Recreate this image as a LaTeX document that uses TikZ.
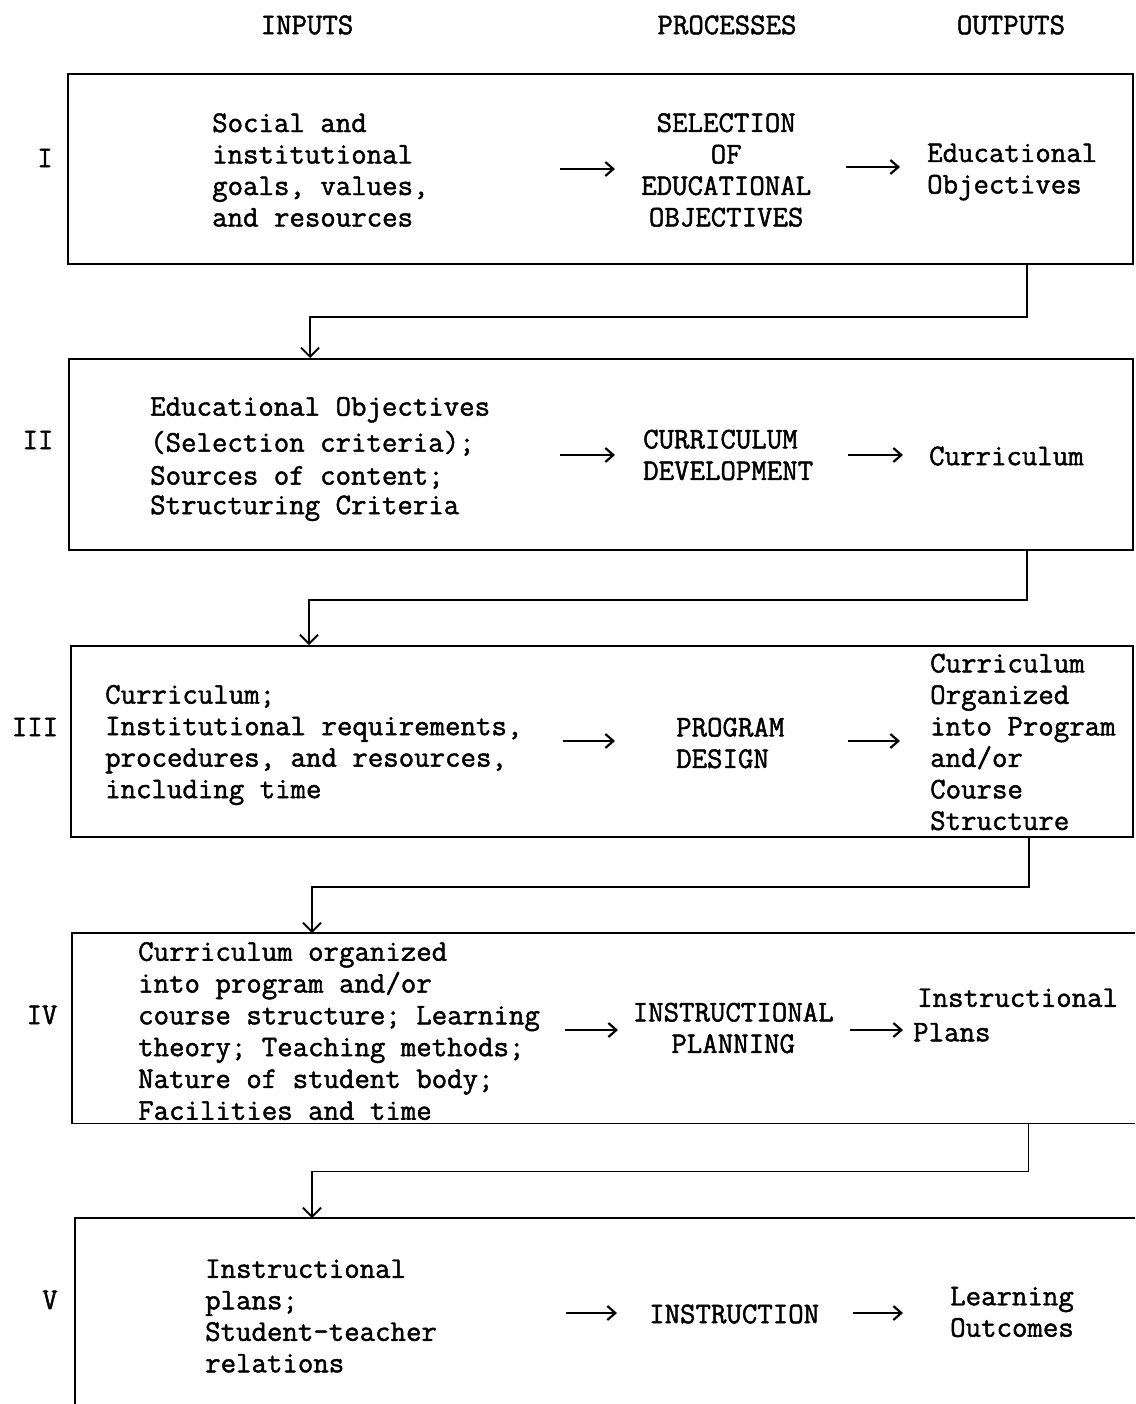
\documentclass[tikz,border=0pt]{standalone}
\usepackage{fontspec}
\newfontfamily\twfont{Latin Modern Mono}[FakeBold=1.5]
\usetikzlibrary{arrows.meta}
\begin{document}
\begin{tikzpicture}[x=1pt,y=-1pt,
  txt/.style={font=\twfont\fontsize{30}{31.5}\selectfont, inner sep=0pt, align=left, anchor=west},
  ctr/.style={font=\twfont\fontsize{30}{31.5}\selectfont, inner sep=0pt, align=center},
  box/.style={draw, line width=1.8pt, rectangle, inner sep=0pt, anchor=north west},
  frame/.style={rectangle, inner sep=0pt, anchor=north west},
  edgeline/.style={line width=1.8pt},
  conn/.style={line width=1.8pt, -{Straight Barb[length=9pt,width=18pt,line width=1.8pt]}},
  arr/.style={line width=1.9pt, -{Straight Barb[length=8pt,width=14pt,line width=2.2pt]}}]
\useasboundingbox (0,0) rectangle (1135,1404);

% headers
\node[ctr] (hin)  at (307,25)  {INPUTS};
\node[ctr] (hpr)  at (727,25)  {PROCESSES};
\node[ctr] (hout) at (1011,25) {OUTPUTS};

% boxes
\node[box, minimum width=1065pt, minimum height=190pt] (b1) at (67,73) {};
\node[box, minimum width=1064pt, minimum height=191pt] (b2) at (68,358) {};
\node[box, minimum width=1062pt, minimum height=191pt] (b3) at (70,645) {};
\node[frame, minimum width=1063pt, minimum height=190pt] (b4) at (72,933) {};
\draw[edgeline] (b4.north east) -- (b4.north west) -- (b4.south west) -- (b4.south east);
\node[frame, minimum width=1060pt, minimum height=186pt] (b5) at (75,1218) {};
\draw[edgeline] (b5.north east) -- (b5.north west) -- (b5.south west);

% connectors between boxes
\draw[conn] ([xshift=-107pt]b1.south east) -- ++(0,52) -| ([xshift=242pt]b2.north west);
\draw[conn] ([xshift=-107pt]b2.south east) -- ++(0,49) -| ([xshift=239pt]b3.north west);
\draw[conn] ([xshift=-105pt]b3.south east) -- ++(0,49) -| ([xshift=240pt]b4.north west);
\draw[conn] ([xshift=-107pt]b4.south east) -- ++(0,48) -| ([xshift=237pt]b5.north west);

% roman numerals
\node[ctr] (r1) at (45,158)  {I};
\node[ctr] (r2) at (38,440)  {II};
\node[ctr] (r3) at (35,727)  {III};
\node[ctr] (r4) at (42,1015) {IV};
\node[ctr] (r5) at (50,1300) {V};

% stage I
\node[txt] (in1) at (212,170) {Social and\\institutional\\goals, values,\\and resources};
\node[ctr, text width=180pt, anchor=west] (pr1) at (636,170) {SELECTION\\OF\\EDUCATIONAL\\OBJECTIVES};
\node[txt] (out1) at (927,172) {Educational\\Objectives};
\draw[arr] ([xshift=-76pt,yshift=1pt]pr1.west) -- ([xshift=-21pt,yshift=1pt]pr1.west);
\draw[arr] ([xshift=-81pt,yshift=5pt]out1.west) -- ([xshift=-27pt,yshift=5pt]out1.west);

% stage II
\node[txt] (in2) at (150,459) {Educational Objectives\\[4.5pt](Selection criteria);\\[1.5pt]Sources of content;\\[-2pt]Structuring Criteria};
\node[txt] (pr2) at (643,455) {CURRICULUM\\DEVELOPMENT};
\node[txt] (out2) at (929,456) {Curriculum};
\draw[arr] ([xshift=-83pt]pr2.west) -- ([xshift=-28pt]pr2.west);
\draw[arr] ([xshift=-81pt,yshift=1pt]out2.west) -- ([xshift=-26pt,yshift=1pt]out2.west);

% stage III
\node[txt] (in3) at (105,745) {Curriculum;\\Institutional requirements,\\procedures, and resources,\\including time};
\node[txt] (pr3) at (676,743) {PROGRAM\\DESIGN};
\node[txt] (out3) at (930,742) {Curriculum\\Organized\\into Program\\and/or\\Course\\Structure};
\draw[arr] ([xshift=-113pt,yshift=2pt]pr3.west) -- ([xshift=-61pt,yshift=2pt]pr3.west);
\draw[arr] ([xshift=-82pt,yshift=1pt]out3.west) -- ([xshift=-30pt,yshift=1pt]out3.west);

% stage IV
\node[txt, font=\twfont\fontsize{30}{31.8}\selectfont] (in4) at (138,1031) {Curriculum organized\\into program and/or\\course structure; Learning\\theory; Teaching methods;\\Nature of student body;\\Facilities and time};
\node[ctr, text width=210pt, anchor=west] (pr4) at (628,1028) {INSTRUCTIONAL\\PLANNING};
\node[txt] (out4) at (913,1015) {\hspace*{4pt}Instructional\\[3pt]Plans};
\draw[arr] ([xshift=-63pt,yshift=-2pt]pr4.west) -- ([xshift=-10pt,yshift=-2pt]pr4.west);
\draw[arr] ([xshift=-63pt,yshift=-15pt]out4.west) -- ([xshift=-10pt,yshift=-15pt]out4.west);

% stage V
\node[txt] (in5) at (205,1316) {Instructional\\plans;\\Student-teacher\\relations};
\node[txt] (pr5) at (649,1314) {INSTRUCTION};
\node[ctr] (out5) at (1012,1312) {Learning\\Outcomes};
\draw[arr] ([xshift=-83pt,yshift=1pt]pr5.west) -- ([xshift=-32pt,yshift=1pt]pr5.west);
\draw[arr] ([xshift=-97pt,yshift=-1pt]out5.west) -- ([xshift=-47pt,yshift=-1pt]out5.west);
\end{tikzpicture}
\end{document}
